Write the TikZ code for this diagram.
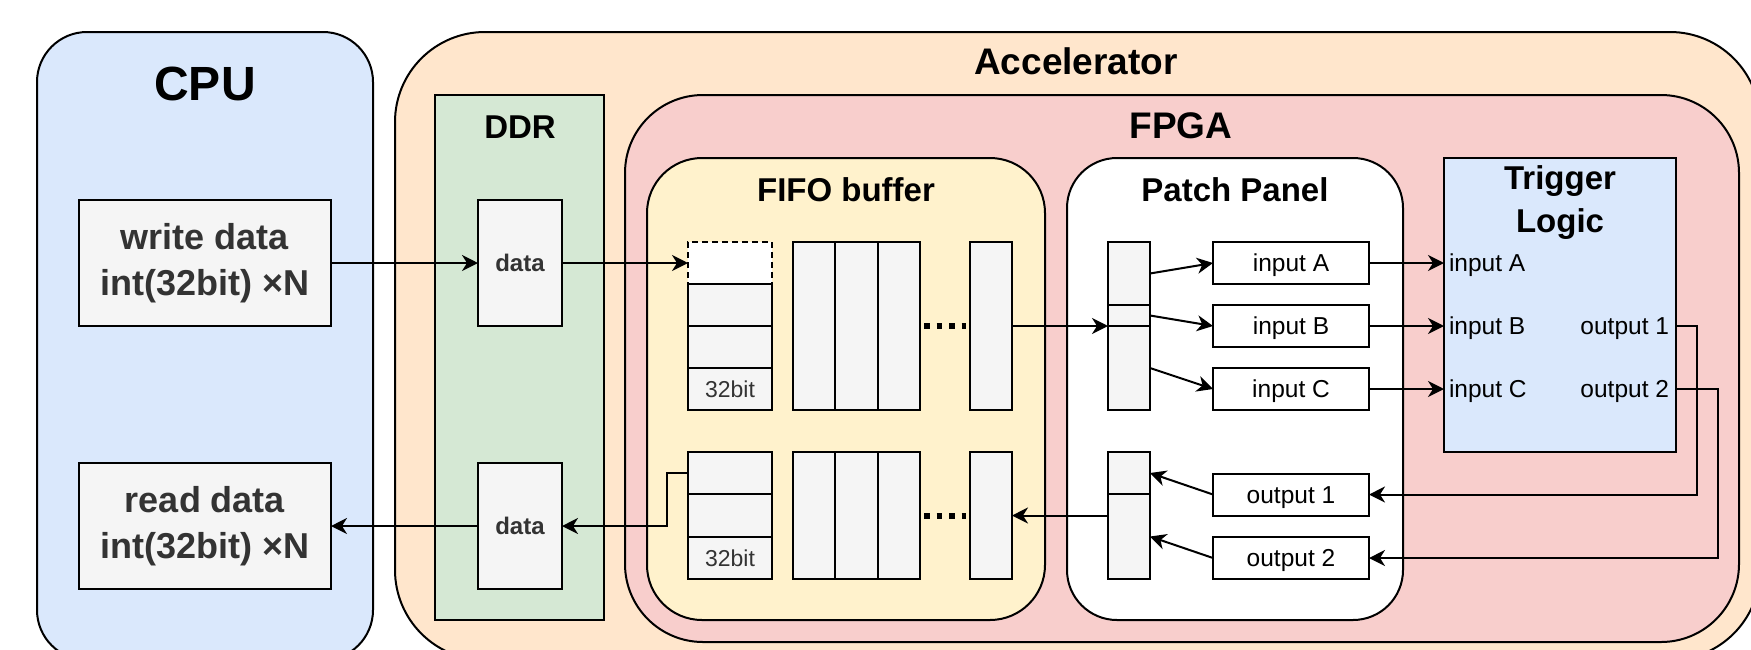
\documentclass[tikz,border=0pt]{standalone}
\usepackage{fontspec}
\setmainfont{Liberation Sans}
\usetikzlibrary{arrows.meta}
\definecolor{cpublue}{HTML}{DAE8FC}
\definecolor{accorange}{HTML}{FFE6CC}
\definecolor{ddrgreen}{HTML}{D5E8D4}
\definecolor{fpgared}{HTML}{F8CECC}
\definecolor{fifoyellow}{HTML}{FFF2CC}
\definecolor{cellgray}{HTML}{F5F5F5}
\definecolor{txtgray}{HTML}{333333}
\begin{document}
\begin{tikzpicture}[x=1pt,y=-1pt,
  every node/.style={inner sep=0pt, outer sep=0pt},
  box/.style={draw=black, line width=2pt, anchor=north west},
  cont/.style={box, rounded corners=#1},
  cell/.style={box, fill=cellgray},
  wbox/.style={box, fill=white, font=\fontsize{24.5}{28}\selectfont, text height=17.5pt, text depth=0pt},
  port/.style={font=\fontsize{24.5}{28}\selectfont},
  title/.style={font=\fontsize{33}{42.4}\selectfont\bfseries, anchor=base},
  arr/.style={line width=2pt, -{Stealth[length=16pt,width=16pt,inset=5pt]}},
  dots/.style={line width=6pt, dash pattern=on 5.5pt off 7pt}
]
\path[use as bounding box] (0,0) rectangle (1751,649);
\clip (0,0) rectangle (1751,649);
\fill[white] (0,0) rectangle (1751,649);

% containers
\node[cont=50pt, fill=cpublue, minimum width=336, minimum height=628] (cpu) at (37,32) {};
\node[cont=90pt, fill=accorange, minimum width=1365, minimum height=628] (acc) at (395,32) {};
\node[box, fill=ddrgreen, minimum width=169, minimum height=525] (ddr) at (435,95) {};
\node[cont=78pt, fill=fpgared, minimum width=1114, minimum height=547] (fpga) at (625,95) {};
\node[cont=55pt, fill=fifoyellow, minimum width=398, minimum height=462] (fifo) at (647,158) {};
\node[cont=50pt, fill=white, minimum width=336, minimum height=462] (patch) at (1067,158) {};
\node[box, fill=cpublue, minimum width=232, minimum height=294.5] (trig) at (1444,157.5) {};

% titles
\node[title, font=\fontsize{48}{56}\selectfont\bfseries] (tcpu) at (205,100) {CPU};
\node[title, font=\fontsize{37}{44}\selectfont\bfseries] (tacc) at (1076,74.3) {Accelerator};
\node[title] (tddr) at (520,138) {DDR};
\node[title, font=\fontsize{37}{44}\selectfont\bfseries] (tfpga) at (1181,138) {FPGA};
\node[title] (tfifo) at (846,201) {FIFO buffer};
\node[title] (tpatch) at (1235,201) {Patch Panel};
\node[title, anchor=north, align=center] (ttrig) at (1560,165.7) {Trigger\\Logic};

% CPU boxes
\node[cell, minimum width=252, minimum height=126, align=center, text=txtgray,
  font=\fontsize{36}{46}\selectfont\bfseries] (wd) at (79,200) {write data\\int(32bit) ×N};
\node[cell, minimum width=252, minimum height=126, align=center, text=txtgray,
  font=\fontsize{36}{46}\selectfont\bfseries] (rd) at (79,463) {read data\\int(32bit) ×N};

% DDR boxes
\node[cell, minimum width=84, minimum height=126, text=txtgray,
  font=\fontsize{24}{28}\selectfont\bfseries, text height=17pt, text depth=0pt] (ddr1) at (478,200) {data};
\node[cell, minimum width=84, minimum height=126, text=txtgray,
  font=\fontsize{24}{28}\selectfont\bfseries, text height=17pt, text depth=0pt] (ddr2) at (478,463) {data};

% FIFO top
\node[box, fill=white, dashed, dash pattern=on 6pt off 4pt, minimum width=84, minimum height=42] (f1d) at (688,242) {};
\node[cell, minimum width=84, minimum height=42] (f1a) at (688,284) {};
\node[cell, minimum width=84, minimum height=42] (f1b) at (688,326) {};
\node[cell, minimum width=84, minimum height=42, text=txtgray,
  font=\fontsize{23}{28}\selectfont, text height=16.5pt, text depth=0pt] (f1c) at (688,368) {32bit};
\node[cell, minimum width=42.33, minimum height=168] (c11) at (793,242) {};
\node[cell, minimum width=42.33, minimum height=168] (c12) at (835.33,242) {};
\node[cell, minimum width=42.33, minimum height=168] (c13) at (877.67,242) {};
\node[cell, minimum width=42, minimum height=168] (lc1) at (970,242) {};
\draw[dots] (924,326) -- (966,326);

% FIFO bottom
\node[cell, minimum width=84, minimum height=42.33] (f2a) at (688,452) {};
\node[cell, minimum width=84, minimum height=42.33] (f2b) at (688,494.33) {};
\node[cell, minimum width=84, minimum height=42.33, text=txtgray,
  font=\fontsize{23}{28}\selectfont, text height=16.5pt, text depth=0pt] (f2c) at (688,536.67) {32bit};
\node[cell, minimum width=42.33, minimum height=127] (c21) at (793,452) {};
\node[cell, minimum width=42.33, minimum height=127] (c22) at (835.33,452) {};
\node[cell, minimum width=42.33, minimum height=127] (c23) at (877.67,452) {};
\node[cell, minimum width=42, minimum height=127] (lc2) at (970,452) {};
\draw[dots] (924,515.5) -- (966,515.5);

% Patch panel stacks
\node[cell, minimum width=42, minimum height=63] (p1a) at (1108,242) {};
\node[cell, minimum width=42, minimum height=21] (p1b) at (1108,305) {};
\node[cell, minimum width=42, minimum height=84] (p1c) at (1108,326) {};
\node[cell, minimum width=42, minimum height=42] (p2a) at (1108,452) {};
\node[cell, minimum width=42, minimum height=85] (p2b) at (1108,494) {};

% Patch panel ports
\node[wbox, minimum width=156, minimum height=42] (ina) at (1213,242) {input A};
\node[wbox, minimum width=156, minimum height=42] (inb) at (1213,305) {input B};
\node[wbox, minimum width=156, minimum height=42] (inc) at (1213,368) {input C};
\node[wbox, minimum width=156, minimum height=42] (out1) at (1213,473.5) {output 1};
\node[wbox, minimum width=156, minimum height=42] (out2) at (1213,537) {output 2};

% Trigger ports
\node[port, anchor=base west] (tia) at (1449,271) {input A};
\node[port, anchor=base west] (tib) at (1449,334) {input B};
\node[port, anchor=base west] (tic) at (1449,397) {input C};
\node[port, anchor=base east] (to1) at (1669,334) {output 1};
\node[port, anchor=base east] (to2) at (1669,397) {output 2};
\coordinate (o1port) at (trig.east |- inb.east);
\coordinate (o2port) at (trig.east |- inc.east);

% connectors
\draw[arr] (wd.east) -- (ddr1.west);
\draw[arr] (ddr1.east) -- (f1d.west);
\draw[arr] (lc1.east) -- (lc1.east -| p1c.west);
\draw[arr] (p1a.east) -- (ina.west);
\draw[arr] (p1b.east) -- (inb.west);
\draw[arr] (p1c.east) -- (inc.west);
\draw[arr] (ina.east) -- (ina.east -| trig.west);
\draw[arr] (inb.east) -- (inb.east -| trig.west);
\draw[arr] (inc.east) -- (inc.east -| trig.west);
\draw[arr] (o1port) -- ++(21,0) |- (out1.east);
\draw[arr] (o2port) -- ++(42,0) |- (out2.east);
\draw[arr] (out1.west) -- (p2a.east);
\draw[arr] (out2.west) -- (p2b.east);
\draw[arr] (lc2.east -| p2b.west) -- (lc2.east);
\draw[arr] (f2a.west) -- ++(-21,0) |- (ddr2.east);
\draw[arr] (ddr2.west) -- (rd.east);
\end{tikzpicture}
\end{document}
